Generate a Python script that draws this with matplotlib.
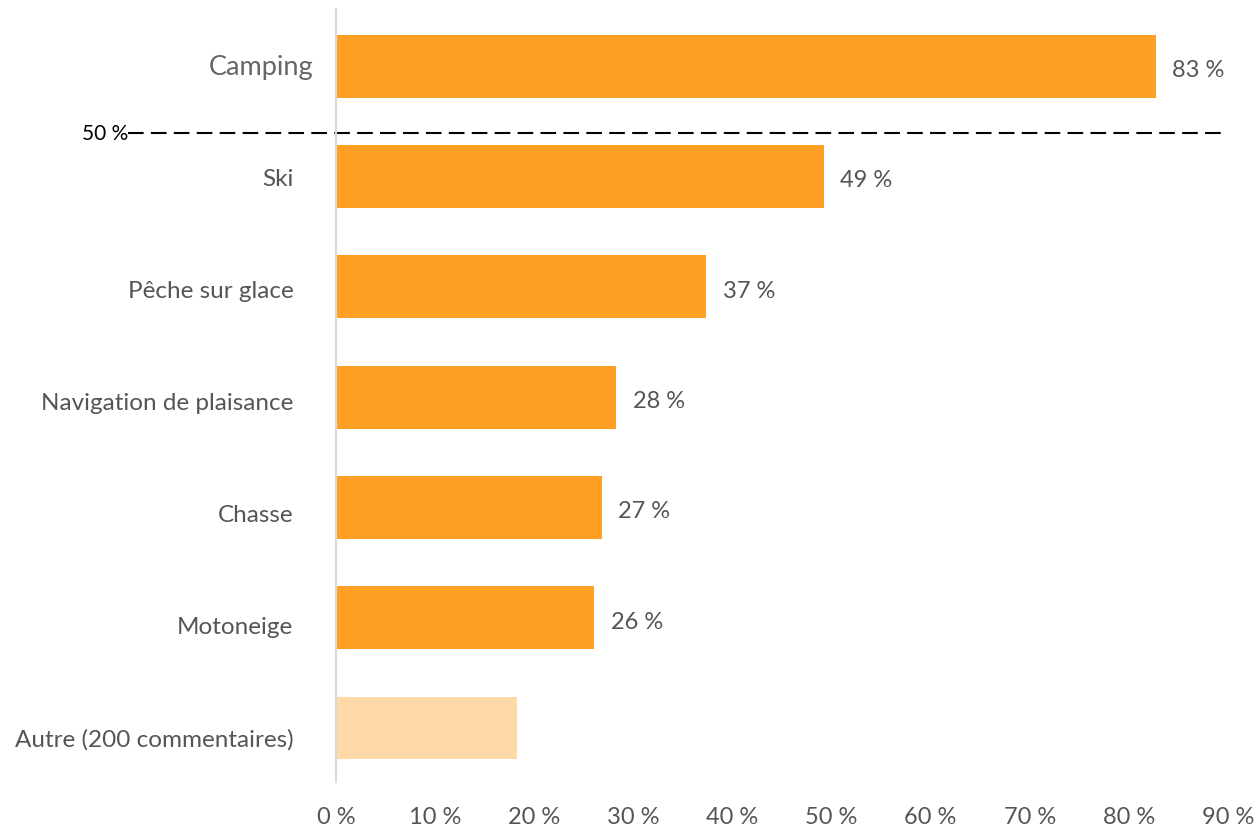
import matplotlib.pyplot as plt

categories = ["Camping", "Ski", "Pêche sur glace", "Navigation de plaisance",
              "Chasse", "Motoneige", "Autre (200 commentaires)"]
values = [82.7, 49.2, 37.3, 28.3, 26.8, 26.0, 18.3]
value_labels = ["83 %", "49 %", "37 %", "28 %", "27 %", "26 %", ""]
xticks = [0, 10, 20, 30, 40, 50, 60, 70, 80, 90]
xtick_labels = [f"{t} %" for t in xticks]
ref_label = "50 %"

bar_color = "#FFA024"
other_color = "#FFD8A8"
text_color = "#555555"

fig = plt.figure(figsize=(12.58, 8.29), dpi=100)
ax = fig.add_axes([336 / 1258, (829 - 783) / 829, (1228 - 336) / 1258, 773 / 829])

ypos = list(range(len(categories)))
colors = [bar_color] * (len(categories) - 1) + [other_color]
ax.barh(ypos, values, height=0.57, color=colors)

for y, v, lab in zip(ypos, values, value_labels):
    if lab:
        ax.text(v + 1.7, y + 0.03, lab, va="center", ha="left",
                fontsize=17, color=text_color, family="Lato")

ax.set_xlim(0, 90)
ax.set_ylim(6.49, -0.52)
ax.set_xticks(xticks)
ax.set_xticklabels(xtick_labels, fontsize=17, color=text_color, family="Lato")
ax.set_yticks([])

# category labels (slightly wider spacing than the bars, as in the original)
for y, cat in zip(ypos, categories):
    if y == 0:
        ax.text(-2.3, y, cat, ha="right", va="center", fontsize=19.5,
                color="#666666", family="Lato")
    else:
        ax.text(-4.3, y + 0.016 * y, cat, ha="right", va="center", fontsize=17.5,
                color=text_color, family="Lato")

# reference line
ax.plot([-21.0, 89.4], [0.6, 0.6], color="black", lw=1.5,
        dashes=(7.5, 3.5), clip_on=False)
ax.text(-21.0, 0.6, ref_label, ha="right", va="center", fontsize=15,
        color="black", family="Lato")

for s in ["top", "right", "bottom"]:
    ax.spines[s].set_visible(False)
ax.spines["left"].set_color("#D9D9D9")
ax.spines["left"].set_linewidth(1.5)
ax.tick_params(axis="x", length=0, pad=17)

fig.savefig("out.png", dpi=100)
